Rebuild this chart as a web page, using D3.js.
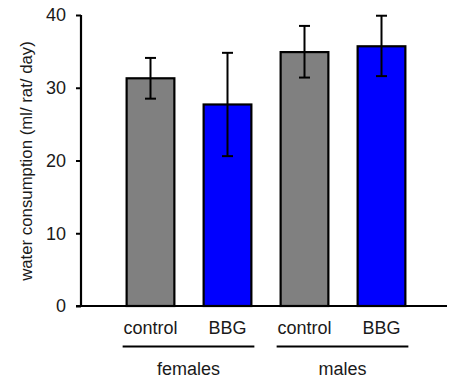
<!DOCTYPE html>
<html>
<head>
<meta charset="utf-8">
<script src="https://cdn.jsdelivr.net/npm/d3@7"></script>
<style>
  body { margin: 0; background: #fff; }
  text { font-family: "Liberation Sans", Arial, sans-serif; fill: #1a1a1a; }
</style>
</head>
<body>
<script>
  var width = 450;
  var height = 382;

  // data
  var categories = ['control', 'BBG', 'control', 'BBG'];
  var groups = ['females', 'males'];
  var means = [31.3, 27.7, 34.9, 35.7];
  var errLow = [28.5, 20.6, 31.4, 31.6];
  var errHigh = [34.1, 34.8, 38.5, 39.9];
  var colors = ['#808080', '#0000ff', '#808080', '#0000ff'];
  var yTicks = [0, 10, 20, 30, 40];

  var svg = d3.select("body")
    .append("svg")
    .attr("width", width)
    .attr("height", height);

  var y = d3.scaleLinear()
    .domain([0, 40])
    .range([306, 15]);

  var x = d3.scaleBand()
    .domain(d3.range(categories.length))
    .range([112, 420])
    .paddingInner(0.38)
    .paddingOuter(0.19);

  // bars
  svg.selectAll("rect.bar")
    .data(means)
    .enter()
    .append("rect")
    .attr("class", "bar")
    .attr("x", function(d, i) { return x(i); })
    .attr("y", function(d) { return y(d); })
    .attr("width", x.bandwidth())
    .attr("height", function(d) { return y(0) - y(d); })
    .style("fill", function(d, i) { return colors[i]; })
    .style("stroke", "#000")
    .style("stroke-width", 2.2);

  // error bars
  var eb = svg.selectAll("g.err")
    .data(means)
    .enter()
    .append("g")
    .attr("class", "err")
    .style("stroke", "#000")
    .style("stroke-width", 2);

  eb.append("line")
    .attr("x1", function(d, i) { return x(i) + x.bandwidth() / 2; })
    .attr("x2", function(d, i) { return x(i) + x.bandwidth() / 2; })
    .attr("y1", function(d, i) { return y(errLow[i]); })
    .attr("y2", function(d, i) { return y(errHigh[i]); });

  eb.append("line")
    .attr("x1", function(d, i) { return x(i) + x.bandwidth() / 2 - 5.5; })
    .attr("x2", function(d, i) { return x(i) + x.bandwidth() / 2 + 5.5; })
    .attr("y1", function(d, i) { return y(errHigh[i]); })
    .attr("y2", function(d, i) { return y(errHigh[i]); });

  eb.append("line")
    .attr("x1", function(d, i) { return x(i) + x.bandwidth() / 2 - 5.5; })
    .attr("x2", function(d, i) { return x(i) + x.bandwidth() / 2 + 5.5; })
    .attr("y1", function(d, i) { return y(errLow[i]); })
    .attr("y2", function(d, i) { return y(errLow[i]); });

  // y axis
  var yAxis = d3.axisLeft(y)
    .tickValues(yTicks)
    .tickSize(5)
    .tickPadding(10);

  var ga = svg.append("g")
    .attr("transform", "translate(81,0)")
    .call(yAxis);
  ga.select(".domain").remove();
  ga.selectAll(".tick line").style("stroke", "#000").style("stroke-width", 2);
  ga.selectAll(".tick text")
    .style("font-size", "18px")
    .style("font-family", "Liberation Sans, Arial, sans-serif")
    .attr("fill", "#1a1a1a");

  svg.append("line")
    .attr("x1", 81).attr("x2", 81)
    .attr("y1", y(40)).attr("y2", y(0) + 1)
    .style("stroke", "#000").style("stroke-width", 2.2);

  // x axis baseline
  svg.append("line")
    .attr("x1", 76).attr("x2", 447)
    .attr("y1", y(0)).attr("y2", y(0))
    .style("stroke", "#000").style("stroke-width", 2.2);

  // category labels
  svg.selectAll("text.cat")
    .data(categories)
    .enter()
    .append("text")
    .attr("class", "cat")
    .attr("x", function(d, i) { return x(i) + x.bandwidth() / 2; })
    .attr("y", 334)
    .attr("text-anchor", "middle")
    .style("font-size", "18px")
    .text(function(d) { return d; });

  // group lines and labels
  groups.forEach(function(g, k) {
    var a = x(k * 2) - 4;
    var b = x(k * 2 + 1) + x.bandwidth() + 3;
    svg.append("line")
      .attr("x1", a).attr("x2", b)
      .attr("y1", 346.5).attr("y2", 346.5)
      .style("stroke", "#000").style("stroke-width", 2);
    svg.append("text")
      .attr("x", (a + b) / 2)
      .attr("y", 375)
      .attr("text-anchor", "middle")
      .style("font-size", "18px")
      .text(g);
  });

  // y axis title
  svg.append("text")
    .attr("transform", "translate(32,161) rotate(-90)")
    .attr("text-anchor", "middle")
    .style("font-size", "16.8px")
    .text("water consumption (ml/ rat/ day)");
</script>
</body>
</html>
